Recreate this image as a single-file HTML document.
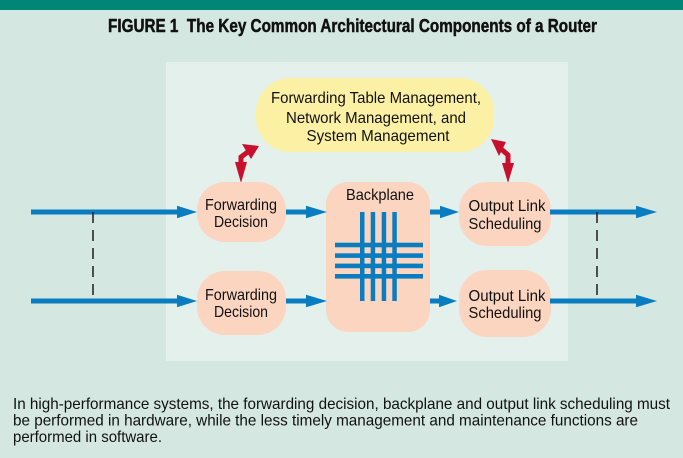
<!DOCTYPE html>
<html><head><meta charset="utf-8"><style>
html,body{margin:0;padding:0;background:#d4e7e0;}
svg{display:block;}
text{font-family:"Liberation Sans",sans-serif;fill:#111;}
</style></head><body>
<svg width="683" height="458" viewBox="0 0 683 458" xmlns="http://www.w3.org/2000/svg">
<rect x="0" y="0" width="683" height="458" fill="#d4e7e0"/>
<rect x="0" y="0" width="683" height="10" fill="#008576"/>
<text x="108" y="32" font-size="18.5" font-weight="bold" stroke="#111" stroke-width="0.5" textLength="489" lengthAdjust="spacingAndGlyphs">FIGURE 1&#160;&#160;The Key Common Architectural Components of a Router</text>

<!-- panel -->
<rect x="166" y="62" width="402" height="299" fill="#e4f0ec"/>

<!-- yellow box -->
<rect x="256" y="78" width="238" height="74" rx="34" ry="34" fill="#fcf0a4"/>
<text x="376" y="103" font-size="16" text-anchor="middle" textLength="210" lengthAdjust="spacingAndGlyphs">Forwarding Table Management,</text>
<text x="376" y="123" font-size="16" text-anchor="middle" textLength="180" lengthAdjust="spacingAndGlyphs">Network Management, and</text>
<text x="378" y="141" font-size="16" text-anchor="middle" textLength="143" lengthAdjust="spacingAndGlyphs">System Management</text>

<!-- red arrows -->
<g fill="#c8102e" stroke="none">
<polyline points="249,151 241,157 241,164" fill="none" stroke="#c8102e" stroke-width="5"/>
<polygon points="259,146 242,144 251,159"/>
<polygon points="241,183 235,162 247,162"/>
<polyline points="500,148 508,155 508,164" fill="none" stroke="#c8102e" stroke-width="5"/>
<polygon points="491,139 506,142 499,156"/>
<polygon points="508,183 502,163 514,163"/>
</g>

<!-- nodes -->
<g fill="#fcd5c1">
<rect x="197" y="182" width="89" height="60" rx="28" ry="28"/>
<rect x="197" y="271" width="89" height="64" rx="28" ry="28"/>
<rect x="326" y="182" width="104" height="150" rx="22" ry="22"/>
<rect x="459" y="182" width="92" height="64" rx="28" ry="28"/>
<rect x="459" y="270" width="92" height="67" rx="28" ry="28"/>
</g>
<text x="241" y="210" font-size="16" text-anchor="middle" textLength="72" lengthAdjust="spacingAndGlyphs">Forwarding</text>
<text x="241" y="227" font-size="16" text-anchor="middle" textLength="54" lengthAdjust="spacingAndGlyphs">Decision</text>
<text x="241" y="300" font-size="16" text-anchor="middle" textLength="72" lengthAdjust="spacingAndGlyphs">Forwarding</text>
<text x="241" y="317" font-size="16" text-anchor="middle" textLength="54" lengthAdjust="spacingAndGlyphs">Decision</text>
<text x="380" y="200" font-size="16" text-anchor="middle" textLength="68" lengthAdjust="spacingAndGlyphs">Backplane</text>
<text x="507" y="211" font-size="16" text-anchor="middle" textLength="77" lengthAdjust="spacingAndGlyphs">Output Link</text>
<text x="505" y="229" font-size="16" text-anchor="middle" textLength="73" lengthAdjust="spacingAndGlyphs">Scheduling</text>
<text x="507" y="301" font-size="16" text-anchor="middle" textLength="77" lengthAdjust="spacingAndGlyphs">Output Link</text>
<text x="505" y="318" font-size="16" text-anchor="middle" textLength="73" lengthAdjust="spacingAndGlyphs">Scheduling</text>

<!-- backplane grid -->
<g fill="#0a7dc1">
<rect x="360" y="212" width="4.5" height="89"/>
<rect x="370.7" y="212" width="4.5" height="89"/>
<rect x="381.7" y="212" width="4.5" height="89"/>
<rect x="392.3" y="212" width="4.5" height="89"/>
<rect x="335" y="242.7" width="88" height="4.6"/>
<rect x="335" y="253.3" width="88" height="4.6"/>
<rect x="335" y="263.6" width="88" height="4.6"/>
<rect x="335" y="274" width="88" height="4.6"/>
</g>

<!-- blue arrows -->
<g fill="#0a7dc1">
<rect x="31" y="209.5" width="148" height="5"/>
<polygon points="177,205.8 197,212 177,218.2"/>
<rect x="31" y="298.5" width="148" height="5"/>
<polygon points="177,294.8 197,301 177,307.2"/>

<rect x="286" y="209.5" width="22" height="5"/>
<polygon points="306,205.8 327,212 306,218.2"/>
<rect x="286" y="298.5" width="22" height="5"/>
<polygon points="306,294.8 327,301 306,307.2"/>

<rect x="430" y="209.5" width="12" height="5"/>
<polygon points="440,205.8 459,212 440,218.2"/>
<rect x="430" y="298.5" width="12" height="5"/>
<polygon points="439,294.8 457,301 439,307.2"/>

<rect x="550" y="209.5" width="88" height="5"/>
<polygon points="636,205.8 657,212 636,218.2"/>
<rect x="550" y="298.5" width="88" height="5"/>
<polygon points="636,294.8 657,301 636,307.2"/>
</g>

<!-- dashed links -->
<line x1="93" y1="212" x2="93" y2="301" stroke="#111" stroke-width="1.4" stroke-dasharray="11 7"/>
<line x1="597" y1="212" x2="597" y2="301" stroke="#111" stroke-width="1.4" stroke-dasharray="11 7"/>

<!-- caption -->
<text x="13" y="409" font-size="16" textLength="657" lengthAdjust="spacingAndGlyphs">In high-performance systems, the forwarding decision, backplane and output link scheduling must</text>
<text x="13" y="425.7" font-size="16" textLength="625" lengthAdjust="spacingAndGlyphs">be performed in hardware, while the less timely management and maintenance functions are</text>
<text x="13" y="442" font-size="16" textLength="149" lengthAdjust="spacingAndGlyphs">performed in software.</text>
</svg>
</body></html>
